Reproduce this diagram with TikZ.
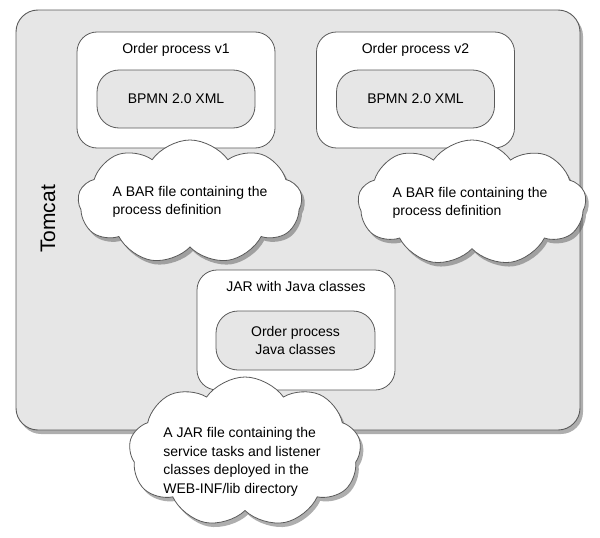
\documentclass[tikz,border=0pt]{standalone}
\usepackage{fontspec}
\setmainfont{Liberation Sans}
\usetikzlibrary{shapes.symbols,shadows,positioning}

\definecolor{boxgray}{HTML}{E6E6E6}
\definecolor{linegray}{HTML}{5A5A5A}

\tikzset{
    serverbox/.style={draw=linegray,line width=0.9pt,fill=boxgray,rounded corners=22pt,
        drop shadow={shadow xshift=3pt,shadow yshift=-4pt,opacity=.45,fill=black!70}},
    procbox/.style={draw=linegray,line width=0.8pt,fill=white,rounded corners=20pt,
        minimum width=198pt,minimum height=116pt,inner sep=0},
    partbox/.style={draw=linegray,line width=0.8pt,fill=boxgray,rounded corners=22pt,
        minimum width=158pt,minimum height=58pt,align=center,font=\fontsize{14}{17.5}\selectfont},
    boxtitle/.style={inner sep=0,font=\fontsize{14}{17}\selectfont},
    note/.style={cloud,cloud puffs=9,cloud puff arc=110,draw=linegray,line width=0.8pt,fill=white,
        inner sep=0,drop shadow={shadow xshift=3pt,shadow yshift=-4pt,opacity=.45,fill=black!70}},
    notetext/.style={align=left,inner sep=0,font=\fontsize{14}{18.5}\selectfont},
}

\begin{document}
\begin{tikzpicture}[x=1pt,y=-1pt]
    \useasboundingbox (0,0) rectangle (600,538);
    % server
    \node[serverbox,minimum width=564pt,minimum height=420pt] (tomcat) at (298,220) {};
    \node[rotate=90,inner sep=0,font=\fontsize{21}{25}\selectfont] (tomcatlabel) at (48,219) {Tomcat};
    % process archives
    \node[procbox] (v1) at (176,90) {};
    \node[boxtitle,below=12pt of v1.north] (v1title) {Order process v1};
    \node[partbox] (v1xml) at (176,99) {BPMN 2.0 XML};
    \node[procbox] (v2) at (415.5,90) {};
    \node[boxtitle,below=12pt of v2.north] (v2title) {Order process v2};
    \node[partbox] (v2xml) at (415.5,99) {BPMN 2.0 XML};
    % java classes
    \node[procbox,minimum height=120pt] (jar) at (296,330) {};
    \node[boxtitle,below=12pt of jar.north] (jartitle) {JAR with Java classes};
    \node[partbox,minimum width=159pt,minimum height=59pt] (jarclasses) at (295.5,340.5) {Order process\\Java classes};
    % notes
    \node[note,minimum width=224pt,minimum height=124pt] (barnote1) at (190,202) {};
    \node[notetext] (barnote1text) at (barnote1.center) {A BAR file containing the\\process definition};
    \node[note,minimum width=228pt,minimum height=126pt] (barnote2) at (472,203) {};
    \node[notetext] (barnote2text) at ([xshift=-2pt]barnote2.center) {A BAR file containing the\\process definition};
    \node[note,minimum width=232pt,minimum height=150pt] (jarnote) at (245,452) {};
    \node[notetext] (jarnotetext) at ([xshift=-3pt,yshift=-10pt]jarnote.center) {A JAR file containing the\\service tasks and listener\\classes deployed in the\\WEB-INF/lib directory};
\end{tikzpicture}
\end{document}
